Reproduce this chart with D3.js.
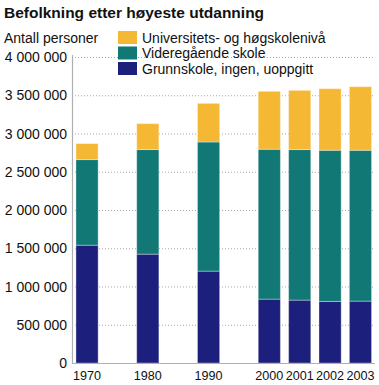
<!DOCTYPE html>
<html><head><meta charset="utf-8">
<script src="https://cdn.jsdelivr.net/npm/d3@7"></script>
<style>body{margin:0;background:#fff}svg{display:block;font-family:"Liberation Sans",Arial,sans-serif}</style>
</head><body><svg id="c" width="379" height="385"></svg>
<script>
const years = ["1970","1980","1990","2000","2001","2002","2003"];
const slots = ["1970","s1","1980","s2","1990","s3","2000","2001","2002","2003"];
const grunnskole = [1540000,1423000,1201000,835000,822000,805000,809000];
const videregaaende = [1119000,1367000,1688000,1959000,1968000,1976000,1972000];
const universitet = [209000,339000,505000,757000,774000,805000,831000];
const seriesNames = ["Grunnskole, ingen, uoppgitt","Videregående skole","Universitets- og høgskolenivå"];
const colors = ["#1c1f7b","#117876","#f5b835"];
const yTicks = [0,500000,1000000,1500000,2000000,2500000,3000000,3500000,4000000];

const svg = d3.select("#c");
const x0 = 72, x1 = 375.5, yTop = 57, yBot = 363;
const x = d3.scaleBand().domain(slots).range([x0, x1]).paddingInner(0.27).paddingOuter(0.13);
const y = d3.scaleLinear().domain([0,4000000]).range([yBot, yTop]);
const fmt = v => d3.format(",")(v).replace(/,/g," ");

// grid
svg.append("g").selectAll("line").data(yTicks.filter(d=>d>0)).join("line")
  .attr("x1", x0).attr("x2", 375).attr("y1", d=>y(d)+0.5).attr("y2", d=>y(d)+0.5)
  .attr("stroke","#a8a8a8").attr("stroke-width",1).attr("stroke-dasharray","1,2");

// y labels
svg.append("g").selectAll("text").data(yTicks).join("text")
  .attr("x", 67).attr("y", d=>y(d)+5).attr("text-anchor","end")
  .attr("font-size",14).attr("fill","#111").text(fmt);

// stacked bars
const rows = years.map((yr,i)=>({year:yr, g:grunnskole[i], v:videregaaende[i], u:universitet[i]}));
const stack = d3.stack().keys(["g","v","u"])(rows);
svg.append("g").selectAll("g").data(stack).join("g")
  .attr("fill",(d,i)=>colors[i])
  .selectAll("rect").data(d=>d).join("rect")
  .attr("x", d=>x(d.data.year)).attr("width", x.bandwidth())
  .attr("y", d=>y(d[1])).attr("height", d=>y(d[0])-y(d[1]))
  .attr("stroke","rgba(255,255,255,0.35)").attr("stroke-width",1);

// axes lines
svg.append("line").attr("x1",x0+0.5).attr("x2",x0+0.5).attr("y1",yTop-2).attr("y2",yBot+1)
  .attr("stroke","#b0b0b0").attr("stroke-width",1.2);
svg.append("line").attr("x1",x0).attr("x2",375).attr("y1",yBot+0.5).attr("y2",yBot+0.5)
  .attr("stroke","#b0b0b0").attr("stroke-width",1.2);

// x labels
svg.append("g").selectAll("text").data(years).join("text")
  .attr("x", d=>x(d)+x.bandwidth()/2).attr("y", 380).attr("text-anchor","middle")
  .attr("font-size",12.6).attr("fill","#111").text(d=>d);

// title
svg.append("text").attr("x",4).attr("y",18).attr("font-size",15.5).attr("font-weight","bold")
  .attr("fill","#111").text("Befolkning etter høyeste utdanning");
svg.append("text").attr("x",4).attr("y",43).attr("font-size",14).attr("fill","#111").text("Antall personer");

// legend
const legendOrder = [2,1,0];
const lg = svg.append("g").selectAll("g").data(legendOrder).join("g")
  .attr("transform",(d,i)=>`translate(118,${31+i*15.5})`);
lg.append("rect").attr("width",19).attr("height",13).attr("fill",d=>colors[d]);
lg.append("text").attr("x",24).attr("y",11.5).attr("font-size",14).attr("fill","#111").text(d=>seriesNames[d]);
</script></body></html>
